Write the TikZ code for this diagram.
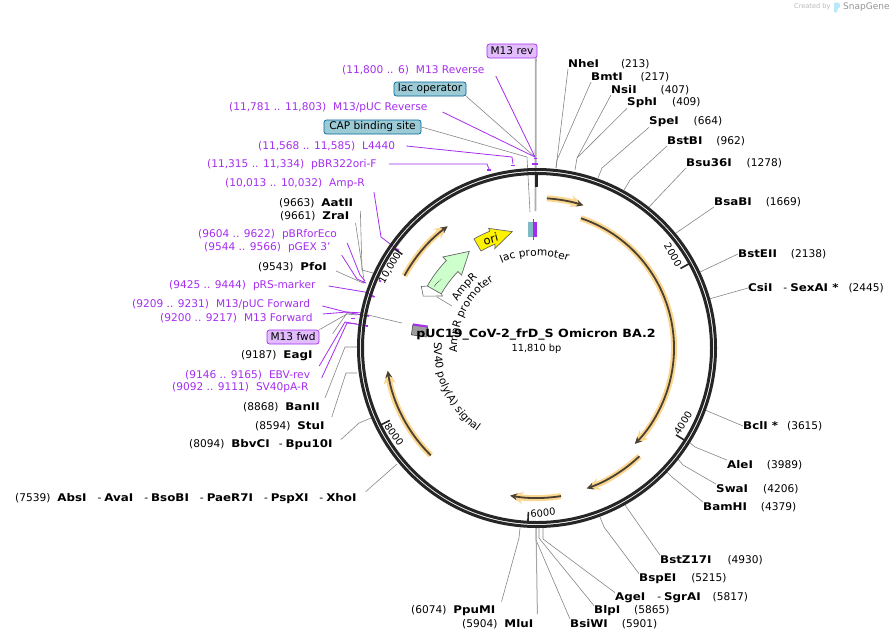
\documentclass[tikz,border=0pt]{standalone}
\usepackage{fontspec}
\setmainfont{DejaVu Sans}[BoldFeatures={FakeStretch=1.12}]
\usetikzlibrary{arrows.meta,decorations.text}
\definecolor{primerc}{HTML}{A52DEF}
\definecolor{linec}{HTML}{858585}
\definecolor{ringc}{HTML}{262626}
\definecolor{glowc}{HTML}{FBD68E}
\definecolor{cdsc}{HTML}{4A4033}
\definecolor{pinkc}{HTML}{E2BDFB}
\definecolor{tealc}{HTML}{9CCBD6}
\newcommand{\lblfont}{\fontsize{10.6}{12}\selectfont}
\newcommand{\enz}[3]{\textbf{#1}\hspace{#2pt}#3}
\newcommand{\lenz}[2]{#1\hspace{7pt}\textbf{#2}}
\newcommand{\prm}[2]{#1\hspace{7pt}#2}
\tikzset{
  lbl/.style = {anchor=west, inner sep=0pt, font=\lblfont},
  prim/.style = {lbl, text=primerc},
  enzline/.style = {draw=linec, line width=0.6pt},
  primline/.style = {draw=primerc, line width=0.8pt},
  primbar/.style = {draw=primerc, line width=1.6pt},
  tagbox/.style = {draw, rounded corners=2.5pt, inner sep=0pt, minimum height=14pt, font=\lblfont, line width=0.7pt},
  tick/.style = {draw=ringc, line width=1.6pt},
  ticklbl/.style = {inner sep=0pt, font=\fontsize{9.8}{11}\selectfont},
  glow/.style = {draw=glowc, line width=6pt, -{Stealth[length=13pt,width=12pt]}},
  cds/.style = {draw=cdsc, line width=1.8pt, -{Stealth[length=7pt,width=7pt]}},
}
\begin{document}
\begin{tikzpicture}[x=1pt,y=1pt]
\useasboundingbox (0,0) rectangle (891,-641);

% logo
\node[anchor=west, inner sep=0pt, text=black!28, font=\fontsize{6.6}{8}\selectfont] (created) at (794,-7) {Created by};
\fill[fill=cyan!28] (834,-2.5) -- (838,-2.5) .. controls (841,-3) and (841,-8) .. (837.5,-9) -- (837,-12.5) -- (834,-12) -- cycle;
\node[anchor=west, inner sep=0pt, text=black!42, font=\fontsize{9}{10}\selectfont] (snapgene) at (843,-7) {SnapGene};

% enzyme sites
\begin{scope}[every node/.style = {lbl}]
\node (nhe) at (568,-64) {\enz{NheI}{22}{(213)}};
\node (bmt) at (591,-77) {\enz{BmtI}{18}{(217)}};
\node (nsi) at (611,-90) {\enz{NsiI}{24}{(407)}};
\node (sph) at (627,-103) {\enz{SphI}{15}{(409)}};
\node (spe) at (649,-122) {\enz{SpeI}{15}{(664)}};
\node (bstb) at (667,-141) {\enz{BstBI}{14}{(962)}};
\node (bsu) at (686,-163) {\enz{Bsu36I}{15}{(1278)}};
\node (bsab) at (714,-202) {\enz{BsaBI}{14}{(1669)}};
\node (bste) at (738,-254) {\enz{BstEII}{14}{(2138)}};
\node (csi) at (748,-288) {\textbf{CsiI}\hspace{11pt}-\hspace{3pt}\enz{SexAI *}{10}{(2445)}};
\node (bcl) at (743,-426) {\enz{BclI *}{9}{(3615)}};
\node (ale) at (727,-465) {\enz{AleI}{14}{(3989)}};
\node (swa) at (716,-489) {\enz{SwaI}{15}{(4206)}};
\node (bam) at (703,-507) {\enz{BamHI}{14}{(4379)}};
\node (bstz) at (660,-560) {\enz{BstZ17I}{16}{(4930)}};
\node (bspe) at (639,-579) {\enz{BspEI}{15}{(5215)}};
\node (age) at (615,-598) {\textbf{AgeI}\hspace{12pt}-\hspace{3pt}\enz{SgrAI}{12}{(5817)}};
\node (blp) at (594,-611) {\enz{BlpI}{14}{(5865)}};
\node (bsiw) at (570,-624) {\enz{BsiWI}{14}{(5901)}};
\node (mlu) at (462,-624) {\lenz{(5904)}{MluI}};
\node (ppu) at (411,-611) {\lenz{(6074)}{PpuMI}};
\node (xho) at (15,-499) {\lenz{(7539)}{AbsI}\hspace{11pt}-\hspace{3pt}\textbf{AvaI}\hspace{11pt}-\hspace{3pt}\textbf{BsoBI}\hspace{11pt}-\hspace{3pt}\textbf{PaeR7I}\hspace{11pt}-\hspace{3pt}\textbf{PspXI}\hspace{11pt}-\hspace{3pt}\textbf{XhoI}};
\node (bbv) at (189,-445) {\lenz{(8094)}{BbvCI}\hspace{9pt}-\hspace{3pt}\textbf{Bpu10I}};
\node (stu) at (255,-426) {\lenz{(8594)}{StuI}};
\node (ban) at (243,-407) {\lenz{(8868)}{BanII}};
\node (eag) at (241,-356) {\lenz{(9187)}{EagI}};
\node (pfo) at (258,-267) {\lenz{(9543)}{PfoI}};
\node (zra) at (280,-216) {\lenz{(9661)}{ZraI}};
\node (aat) at (279,-203) {\lenz{(9663)}{AatII}};
\end{scope}

% primers
\begin{scope}[every node/.style = {prim}]
\node (m13r) at (342,-70) {\prm{(11,800 .. 6)}{M13 Reverse}};
\node (m13pr) at (229,-108) {\prm{(11,781 .. 11,803)}{M13/pUC Reverse}};
\node (l4440) at (258,-146) {\prm{(11,568 .. 11,585)}{L4440}};
\node (pbr) at (207,-165) {\prm{(11,315 .. 11,334)}{pBR322ori-F}};
\node (ampr) at (225,-184) {\prm{(10,013 .. 10,032)}{Amp-R}};
\node (pbrf) at (198,-235) {\prm{(9604 .. 9622)}{pBRforEco}};
\node (pgex) at (204,-248) {\prm{(9544 .. 9566)}{pGEX 3'}};
\node (prs) at (169,-286) {\prm{(9425 .. 9444)}{pRS-marker}};
\node (m13pf) at (132,-305) {\prm{(9209 .. 9231)}{M13/pUC Forward}};
\node (m13f) at (160,-318) {\prm{(9200 .. 9217)}{M13 Forward}};
\node (ebv) at (185,-375) {\prm{(9146 .. 9165)}{EBV-rev}};
\node (sv40r) at (172,-388) {\prm{(9092 .. 9111)}{SV40pA-R}};
\end{scope}

% tagged features
\node[tagbox, draw=primerc, fill=pinkc, minimum width=50pt] (m13rev) at (512,-51) {M13 rev};
\node[tagbox, draw=primerc, fill=pinkc, minimum width=52pt] (m13fwd) at (293,-337) {M13 fwd};
\node[tagbox, draw=teal!80!blue, fill=tealc, minimum width=72pt] (lacop) at (430,-89) {lac operator};
\node[tagbox, draw=teal!80!blue, fill=tealc, minimum width=97pt] (cap) at (372.5,-127) {CAP binding site};

% line ends
\coordinate (nhee) at (556,-168);
\coordinate (bmtb) at (557,-160);
\coordinate (nsib) at (577,-158);
\coordinate (nsie) at (575,-170);
\coordinate (speb) at (602,-168);
\coordinate (spee) at (598,-178);
\coordinate (bstbb) at (630,-180);
\coordinate (bstbe) at (624,-190);
\coordinate (bsue) at (649,-207);
\coordinate (bsabe) at (676,-233);
\coordinate (bstee) at (700,-272);
\coordinate (csie) at (709,-299);
\coordinate (bcle) at (705,-410);
\coordinate (aleb) at (695,-447);
\coordinate (alee) at (689,-442);
\coordinate (swab) at (683,-465);
\coordinate (swae) at (678,-459);
\coordinate (bamb) at (672,-477);
\coordinate (bame) at (667,-472);
\coordinate (bstze) at (625,-505);
\coordinate (bspeb) at (604,-527);
\coordinate (bspee) at (600,-517);
\coordinate (ageb) at (543,-539);
\coordinate (agee) at (543,-528);
\coordinate (blpb) at (539,-538);
\coordinate (blpe) at (539,-528);
\coordinate (bsiwb) at (536,-540);
\coordinate (mlue) at (536,-528);
\coordinate (ppub) at (519,-538);
\coordinate (ppue) at (520,-528);
\coordinate (xhoe) at (397,-464);
\coordinate (bbvb) at (359,-423);
\coordinate (bbve) at (371,-418);
\coordinate (stub) at (346,-373);
\coordinate (stue) at (357,-373);
\coordinate (banb) at (345,-347);
\coordinate (bane) at (357,-347);
\coordinate (eagb) at (347,-313);
\coordinate (eage) at (358,-313);
\coordinate (fwdb) at (347,-314);
\coordinate (fwde) at (357,-315);
\coordinate (pfoe) at (363,-283);
\coordinate (zrae) at (364,-280);
\coordinate (aatb) at (362,-270);
\coordinate (aate) at (373,-273);
\coordinate (lacc) at (535,-157);
\coordinate (capb) at (527,-157);
\coordinate (cape) at (530,-212);
\coordinate (m13e) at (535.5,-211);
\coordinate (sv40e) at (402,-323);
\coordinate (sv40s) at (368,-315);
\coordinate (apb) at (437,-297);
\coordinate (ape) at (452,-306);

% primer ends
\coordinate (m13re) at (535,-157);
\coordinate (l4b) at (512,-157);
\coordinate (l4e) at (513,-164);
\coordinate (pbrb) at (487,-164);
\coordinate (pbre) at (489,-169);
\coordinate (ampb) at (381,-237);
\coordinate (ampe) at (398,-250);
\coordinate (pbrfb) at (360,-275);
\coordinate (pbrfe) at (365,-281);
\coordinate (pgexb) at (357,-279);
\coordinate (pgexe) at (366,-283);
\coordinate (prsb) at (365,-292);
\coordinate (prse) at (373,-296);
\coordinate (pfb) at (350,-313);
\coordinate (pfe) at (368,-316);
\coordinate (fb) at (347,-312);
\coordinate (fe) at (363,-313);
\coordinate (ebvb) at (345,-322);
\coordinate (ebve) at (367,-326);
\coordinate (svb) at (347,-323);
\coordinate (sve) at (357,-324);

\begin{scope}[every path/.style = {enzline}]
\draw (nhe.south west) -- (nhee);
\draw (bmt.south west) -- (bmtb) -- (nhee);
\draw (nsi.south west) -- (nsib) -- (nsie);
\draw (sph.south west) -- (nsib);
\draw (spe.south west) -- (speb) -- (spee);
\draw (bstb.south west) -- (bstbb) -- (bstbe);
\draw (bsu.south west) -- (bsue);
\draw (bsab.south west) -- (bsabe);
\draw (bste.west) -- (bstee);
\draw (csi.west) -- (csie);
\draw (bcl.west) -- (bcle);
\draw (ale.north west) -- (aleb) -- (alee);
\draw (swa.north west) -- (swab) -- (swae);
\draw (bam.north west) -- (bamb) -- (bame);
\draw (bstz.north west) -- (bstze);
\draw (bspe.north west) -- (bspeb) -- (bspee);
\draw (age.north west) -- (ageb) -- (agee);
\draw (blp.north west) -- (blpb) -- (blpe);
\draw (bsiw.north west) -- (bsiwb) -- (mlue);
\draw[draw=black!35, line width=1pt] (mlu.north east) ++(4,5) -- (mlue);
\draw (ppu.north east) ++(6,4) -- (ppub) -- (ppue);
\draw (xho.north east) ++(9,2) -- (xhoe);
\draw (bbv.north east) ++(8,0) -- (bbvb) -- (bbve);
\draw (stu.north east) ++(7,4) -- (stub) -- (stue);
\draw (ban.north east) ++(5,4) -- (banb) -- (bane);
\draw (eag.north east) ++(20,17) -- (eagb) -- (eage);
\draw (pfo.east) ++(9,-4) -- (pfoe);
\draw (zra.east) ++(6,-7) -- (zrae);
\draw (aat.east) ++(7,-8) -- (aatb) -- (aate);
\draw (m13fwd.north east) -- (fwdb) -- (fwde);
\draw[draw=black!32, line width=1.8pt] (m13rev.south east) ++(-1.5,0) -- (m13e);
\draw (lacop.south east) -- (lacc);
\draw (cap.east) -- (capb) -- (cape);
\draw (sv40s) -- (sv40e);
\draw (apb) -- (ape);
\end{scope}

\begin{scope}[every path/.style = {primline}]
\draw (m13r.south east) ++(11,-1) -- (m13re);
\draw (m13pr.east) ++(15,-4) -- (m13re);
\draw (l4440.east) ++(11,0) -- (l4b) -- (l4e);
\draw (pbr.east) ++(12,1) -- (pbrb) -- (pbre);
\draw (ampr.east) ++(9,-8) -- (ampb) -- (ampe);
\draw (pbrf.east) ++(10,-8) -- (pbrfb) -- (pbrfe);
\draw (pgex.east) ++(11,-7) -- (pgexb) -- (pgexe);
\draw (prs.east) ++(13,0) -- (prsb) -- (prse);
\draw (m13pf.east) ++(12,-1) -- (pfb) -- (pfe);
\draw (m13f.east) ++(10,4) -- (fb) -- (fe);
\draw (ebv.east) ++(9,9) -- (ebvb) -- (ebve);
\draw (sv40r.east) ++(13,10) -- (svb) -- (sve);
\end{scope}

% small primer marks
\draw[primbar] (532,-164) -- (538,-164);
\draw[primbar] (533.5,-158.5) -- (536.5,-158.5);
\draw[primbar] (511,-165.5) -- (515,-165.5);
\draw[primbar] (487,-170) -- (491,-170);
\draw[primbar] (396.5,-249) -- (399,-250.5);
\draw[primbar] (379,-280.5) -- (381,-281.5);
\draw[primbar] (363,-281) -- (364.5,-283);
\draw[primbar] (372.5,-296) -- (374.5,-297);
\draw[primbar] (367,-315.5) -- (369,-316);
\draw[primbar] (366,-326) -- (368,-326);
\draw[primbar] (351,-318.5) -- (355,-318.5);

\begin{scope}[shift={(537,-348)}]
% ring
\draw[ringc, line width=3pt] (0,0) circle (178.5);
\draw[ringc, line width=3pt] (0,0) circle (174.5);
\draw[ringc, line width=3pt] (-1,173) -- (-1,161);
\draw[tick] (29:174) -- (29:164);
\draw[tick] (-32:174) -- (-32:164);
\draw[tick] (-93:174) -- (-93:164);
\draw[tick] (-153.8:174) -- (-153.8:164);
\draw[tick] (145.2:174) -- (145.2:164);

% coding arcs
\foreach \a/\b/\r in {86.2/72/150, 71.3/-44.4/137, -46.6/-70.5/149, -80.8/-100.3/150, 225.3/188.7/151, 151.4/126.3/151} {
  \draw[glow] (\a:\r) arc[start angle=\a, end angle=\b, radius=\r];
  \draw[cds] (\a:\r) arc[start angle=\a, end angle=\b, radius=\r];
}

% AmpR with promoter
\filldraw[draw=black!60, fill=white, line width=0.6pt] (152:131) -- (147.5:117) -- (151.2:108) -- (155.5:125) -- cycle;
\filldraw[draw=black!60, fill=green!20!white, line width=0.7pt]
  (150.5:126) arc[start angle=150.5, end angle=136, radius=126]
  -- (136:131) -- (125:118) -- (136:105) -- (136:110)
  arc[start angle=136, end angle=150.5, radius=110] -- cycle;
\draw[densely dotted, line width=0.6pt] (149:120) -- (144:118);

% ori
\filldraw[draw=black!60, fill=yellow, line width=0.7pt]
  (120:126) arc[start angle=120, end angle=112, radius=126]
  -- (112:129) -- (102:119) -- (113:108) -- (112:112)
  arc[start angle=112, end angle=120, radius=112] -- cycle;
\node[rotate=15, inner sep=0pt, font=\fontsize{11.5}{13}\selectfont] (ori) at (113:118.5) {ori};

% lac promoter piece
\fill[primerc] (-3,111) rectangle (0,126);
\fill[tealc!80!teal] (-9,111) rectangle (-4.5,126);
\draw[densely dotted, line width=1.4pt, black!80] (-3.8,111) -- (-3.8,126);
\draw[black!60, line width=0.6pt] (-3.8,108) -- (-3.8,129);

% SV40 polyA piece
\filldraw[draw=black!70, fill=black!38, line width=0.6pt, rotate around={-8:(-117,17)}] (-125,12) rectangle (-110,22);
\draw[draw=primerc, line width=2pt, rotate around={-8:(-117,17)}] (-125,22.5) -- (-110,22.5);

% tick labels
\node[ticklbl, rotate=-60] (t2000) at (136,93) {2000};
\node[ticklbl, rotate=58] (t4000) at (146,-75) {4000};
\node[ticklbl, rotate=6] (t6000) at (6,-165) {6000};
\node[ticklbl, rotate=-54] (t8000) at (-143,-86) {8000};
\node[ticklbl, rotate=60] (t10000) at (-147,80) {10,000};

% curved feature names
\path[decorate, decoration={text along path, text align=center, text={|\lblfont|lac promoter}}]
  (121:92) arc[start angle=121, end angle=62, radius=92];
\path[decorate, decoration={text along path, text align=center, text={|\lblfont|AmpR}}]
  (165:92) arc[start angle=165, end angle=115, radius=92];
\path[decorate, decoration={text along path, text align=center, text={|\lblfont|AmpR promoter}}]
  (198:80) arc[start angle=198, end angle=108, radius=80];
\path[decorate, decoration={text along path, text align=center, text={|\lblfont|SV40 poly(A) signal}}]
  (160:103) arc[start angle=160, end angle=251, radius=103];
\end{scope}

% name in the middle
\node[inner sep=0pt, font=\fontsize{11.3}{14}\bfseries\selectfont] (title) at (536,-335) {pUC19\_CoV-2\_frD\_S Omicron BA.2};
\node[inner sep=0pt, font=\fontsize{9.8}{12}\selectfont] (bp) at (536.5,-349) {11,810 bp};
\end{tikzpicture}
\end{document}
